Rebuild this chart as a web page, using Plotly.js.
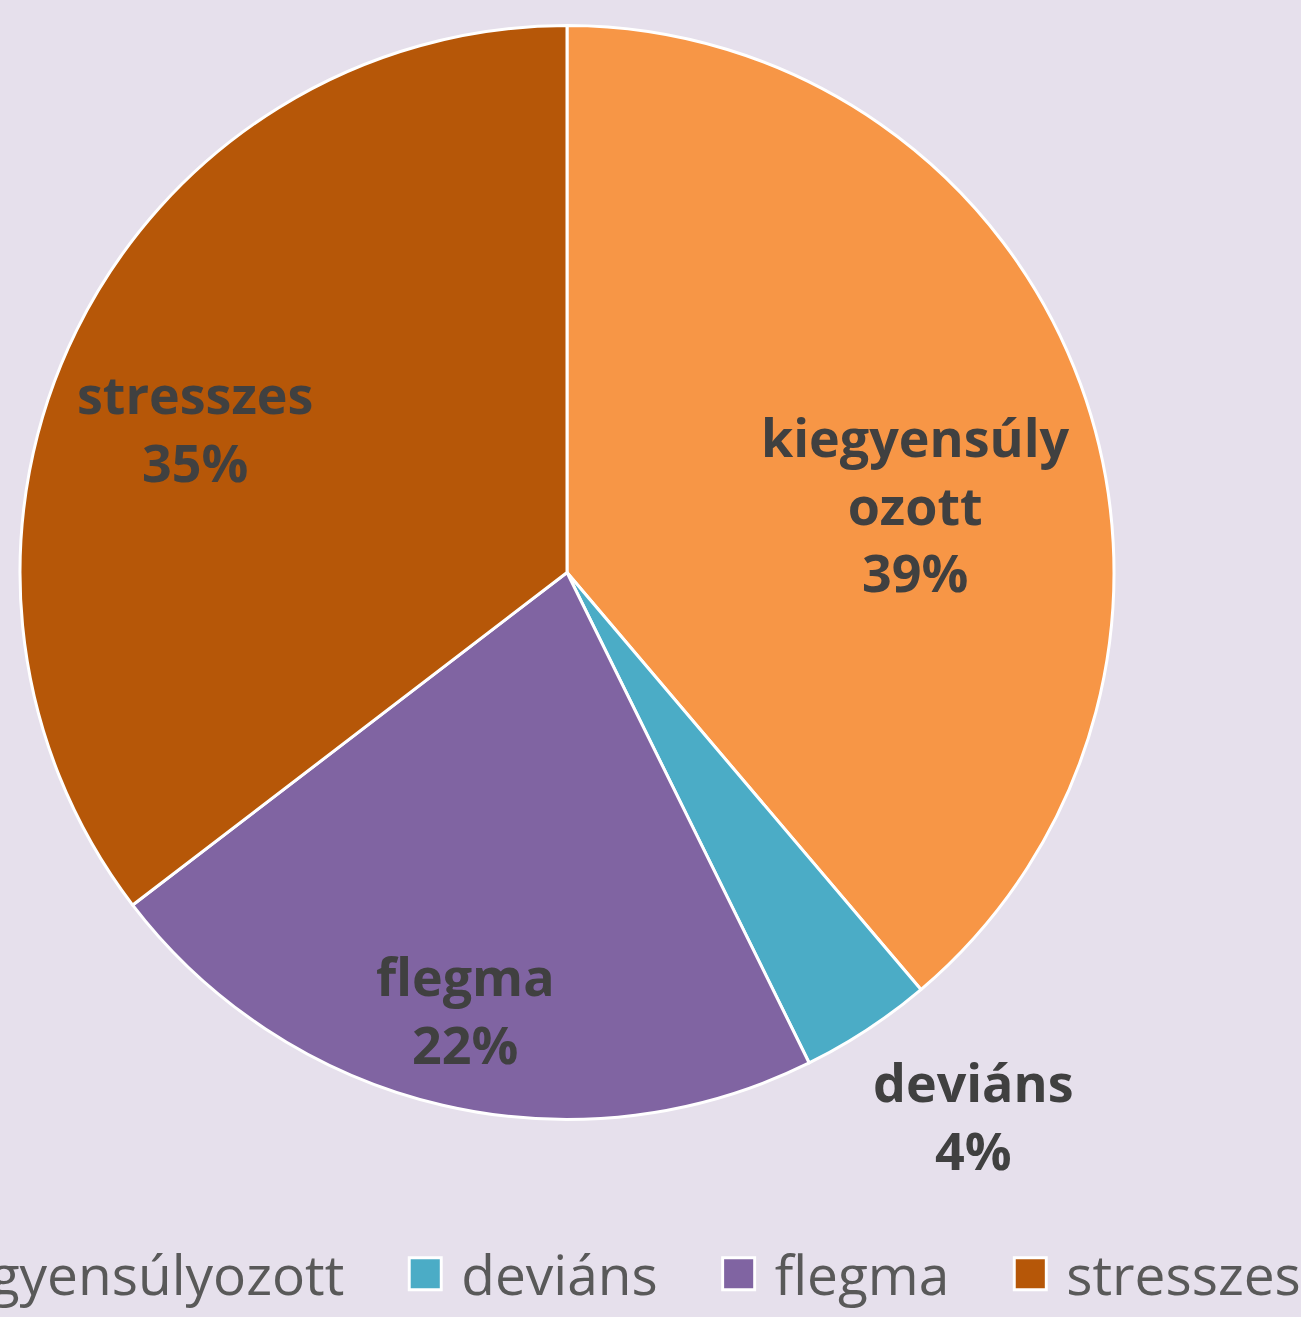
<!DOCTYPE html>
<html><head><meta charset="utf-8">
<script src="https://cdn.plot.ly/plotly-3.0.1.min.js"></script>
<style>
html,body{margin:0;padding:0;background:#E6E0EC;overflow:hidden;width:1301px;height:1317px;position:relative}
#chart{position:absolute;left:-200px;top:0;width:2200px;height:1317px}
</style>
</head><body><div id="chart"></div>
<script>
// Data
const categories = ['kiegyensúlyozott', 'deviáns', 'flegma', 'stresszes'];
const sliceLabels = ['kiegyensúly<br>ozott', 'deviáns', 'flegma', 'stresszes'];
const shares = [38.8, 3.9, 21.9, 35.4];

// Styles / label placement (fraction of radius, angle shift in degrees)
const sliceColors = ['#F79646', '#4BACC6', '#8064A2', '#B65708'];
const labelRadius = [0.65, 1.24, 0.82, 0.73];
const labelAngleShift = [9, -3.5, 0, -5];

const W = 2200, H = 1317, OFFSET = 200;
const domX = [(20 + OFFSET) / W, (1114 + OFFSET) / W];
const domY = [1 - 1120 / H, 1 - 25 / H];

const trace = {
  type: 'pie',
  labels: categories,
  values: shares,
  textinfo: 'none',
  sort: false,
  direction: 'clockwise',
  rotation: 0,
  hoverinfo: 'none',
  marker: { colors: sliceColors, line: { color: '#FFFFFF', width: 3 } },
  domain: { x: domX, y: domY }
};

// Data labels placed around the slices' mid-angles (computed from the values)
const total = shares.reduce((a, b) => a + b, 0);
const cxPx = (domX[0] + domX[1]) / 2 * W;
const cyPx = (1 - (domY[0] + domY[1]) / 2) * H;
const R = Math.min((domX[1] - domX[0]) * W, (domY[1] - domY[0]) * H) / 2;
let cum = 0;
const annotations = shares.map(function (v, i) {
  const mid = (cum + v / 2) / total * 360 + labelAngleShift[i];
  cum += v;
  const a = mid * Math.PI / 180;
  const x = cxPx + labelRadius[i] * R * Math.sin(a);
  const y = cyPx - labelRadius[i] * R * Math.cos(a);
  return {
    xref: 'paper', yref: 'paper',
    x: x / W, y: 1 - y / H,
    xanchor: 'center', yanchor: 'middle',
    showarrow: false,
    text: sliceLabels[i] + '<br>' + Math.round(v / total * 100) + '%',
    font: { family: 'Open Sans', size: 52, color: '#404040', weight: 700 }
  };
});

const layout = {
  width: W,
  height: H,
  margin: { l: 0, r: 0, t: 0, b: 0, autoexpand: false },
  paper_bgcolor: '#E6E0EC',
  plot_bgcolor: '#E6E0EC',
  showlegend: true,
  annotations: annotations,
  legend: {
    orientation: 'h',
    x: 4 / W, xanchor: 'left',
    y: 1 - 1274 / H, yanchor: 'middle',
    itemwidth: 102,
    bgcolor: 'rgba(0,0,0,0)',
    font: { family: 'Open Sans', size: 55, color: '#595959' }
  }
};

Plotly.newPlot('chart', [trace], layout, { displayModeBar: false, staticPlot: true }).then(function () {
  document.querySelectorAll('#chart .legend .traces').forEach(function (item) {
    const t = item.querySelector('text.legendtext');
    const p = item.querySelector('path.legendpie');
    if (!t || !p) return;
    const tx = parseFloat(t.getAttribute('x')) || 112;
    p.setAttribute('transform', 'translate(' + (tx - 36) + ',0) scale(2.667)');
    p.style.strokeWidth = '1.1px';
  });
});
</script>
</body></html>
